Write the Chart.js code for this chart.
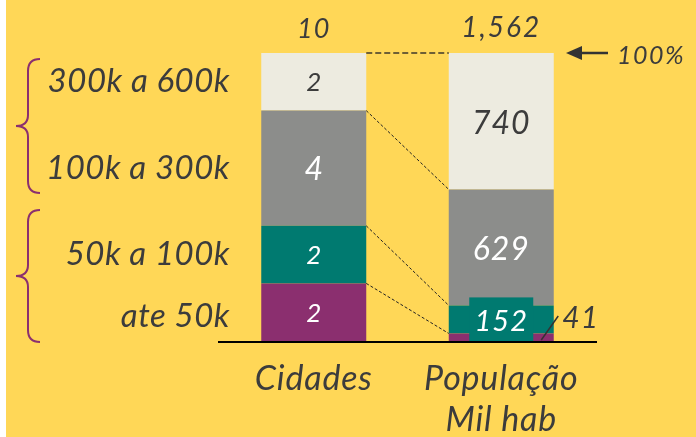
<!DOCTYPE html>
<html>
<head>
<meta charset="utf-8">
<script src="https://cdn.jsdelivr.net/npm/chart.js@4.4.1/dist/chart.umd.min.js"></script>
<style>
  html, body { margin: 0; padding: 0; background: #fff; }
  canvas { display: block; }
</style>
</head>
<body>
<canvas id="Chart" width="696" height="437"></canvas>
<script>
// dados
const categorias = ['Cidades', ['População', 'Mil hab']];
const faixas = ['ate 50k', '50k a 100k', '100k a 300k', '300k a 600k'];
const cidades = [2, 2, 4, 2];
const populacao = [41, 152, 629, 740];
const totais = ['10', '1,562'];

const cores = ['#8B2F6F', '#007A70', '#8C8D8B', '#EDEBE0'];
const corTexto = '#3c3c3c';
const fonte = 'Lato, "Open Sans", sans-serif';

const somaC = cidades.reduce((a, b) => a + b, 0);
const somaP = populacao.reduce((a, b) => a + b, 0);

const datasets = faixas.map((f, i) => ({
  label: f,
  data: [cidades[i] / somaC * 100, populacao[i] / somaP * 100],
  backgroundColor: cores[i],
  borderWidth: 0,
  barPercentage: 0.56,
  categoryPercentage: 1
}));

function brace(ctx, top, bottom, xTip, xLine, xEnd) {
  const mid = (top + bottom) / 2;
  ctx.beginPath();
  ctx.moveTo(xEnd, top);
  ctx.quadraticCurveTo(xLine, top, xLine, top + 12);
  ctx.lineTo(xLine, mid - 11);
  ctx.quadraticCurveTo(xLine, mid, xTip, mid);
  ctx.quadraticCurveTo(xLine, mid, xLine, mid + 11);
  ctx.lineTo(xLine, bottom - 12);
  ctx.quadraticCurveTo(xLine, bottom, xEnd, bottom);
  ctx.stroke();
}

function texto(ctx, t, x, y, tam, esp) {
  ctx.font = 'italic ' + tam + 'px ' + fonte;
  ctx.letterSpacing = (esp || 0) + 'px';
  ctx.fillText(t, x, y);
}

const desenho = {
  id: 'desenho',
  beforeDraw(chart) {
    const ctx = chart.ctx;
    ctx.save();
    ctx.fillStyle = '#fff';
    ctx.fillRect(0, 0, chart.width, chart.height);
    ctx.fillStyle = '#FFD757';
    ctx.fillRect(6, 0, chart.width - 6, chart.height);
    ctx.restore();
  },
  afterDatasetsDraw(chart) {
    const ctx = chart.ctx;
    const area = chart.chartArea;
    const metas = datasets.map((d, i) => chart.getDatasetMeta(i));
    const c = i => metas[i].data[0];
    const p = i => metas[i].data[1];
    ctx.save();

    // linhas tracejadas
    ctx.strokeStyle = '#222';
    ctx.lineWidth = 1;
    ctx.setLineDash([3, 2]);
    for (let i = 0; i < 3; i++) {
      ctx.beginPath();
      ctx.moveTo(c(i).x + c(i).width / 2, c(i).y);
      ctx.lineTo(p(i).x - p(i).width / 2, p(i).y);
      ctx.stroke();
    }
    ctx.strokeStyle = '#6e5f35';
    ctx.lineWidth = 2;
    ctx.setLineDash([6, 3]);
    ctx.beginPath();
    ctx.moveTo(c(3).x + c(3).width / 2, c(3).y);
    ctx.lineTo(p(3).x - p(3).width / 2, p(3).y);
    ctx.stroke();
    ctx.setLineDash([]);

    // caixa do 152
    const b = p(1);
    ctx.fillStyle = cores[1];
    ctx.fillRect(b.x - 32, b.y - 8, 64, area.bottom - (b.y - 8));

    // eixo
    ctx.strokeStyle = '#000';
    ctx.lineWidth = 2;
    ctx.beginPath();
    ctx.moveTo(area.left - 2, area.bottom + 1);
    ctx.lineTo(area.right + 2, area.bottom + 1);
    ctx.stroke();

    // valores nas barras
    ctx.textAlign = 'center';
    ctx.textBaseline = 'middle';
    const corVal = ['#fff', '#fff', '#fff', corTexto];
    const tamC = [26, 26, 32, 26];
    for (let i = 0; i < 4; i++) {
      const e = c(i);
      ctx.fillStyle = corVal[i];
      texto(ctx, String(cidades[i]), e.x, (e.y + e.base) / 2 + 1, tamC[i]);
    }
    ctx.fillStyle = corTexto;
    texto(ctx, String(populacao[3]), p(3).x, (p(3).y + p(3).base) / 2 + 2, 32, 1);
    ctx.fillStyle = '#fff';
    texto(ctx, String(populacao[2]), p(2).x, (p(2).y + p(2).base) / 2 + 2, 32, 1);
    texto(ctx, String(populacao[1]), b.x, (b.y - 8 + area.bottom) / 2 + 2, 29, 1);

    // 41 fora da barra
    ctx.strokeStyle = '#333';
    ctx.lineWidth = 1.5;
    ctx.beginPath();
    ctx.moveTo(p(0).x + 40, area.bottom - 1);
    ctx.lineTo(p(0).x + 57, area.bottom - 25);
    ctx.stroke();
    ctx.fillStyle = corTexto;
    ctx.textAlign = 'left';
    texto(ctx, String(populacao[0]), p(0).x + 61, area.bottom - 23, 30, 1);

    // totais
    ctx.textAlign = 'center';
    texto(ctx, totais[0], c(3).x, 29, 27, 1);
    texto(ctx, totais[1], p(3).x, 28, 28, 2);

    // seta 100%
    const yTop = area.top;
    ctx.strokeStyle = '#333';
    ctx.fillStyle = '#333';
    ctx.lineWidth = 2.5;
    ctx.beginPath();
    ctx.moveTo(608, yTop);
    ctx.lineTo(575, yTop);
    ctx.stroke();
    ctx.beginPath();
    ctx.moveTo(566, yTop);
    ctx.lineTo(582, yTop - 7);
    ctx.lineTo(582, yTop + 7);
    ctx.closePath();
    ctx.fill();
    ctx.fillStyle = corTexto;
    ctx.textAlign = 'left';
    texto(ctx, '100%', 617, yTop + 3, 25, 1.5);

    // rotulos das faixas
    ctx.textAlign = 'right';
    const ajuste = [4, 0, 0, 0];
    for (let i = 0; i < 4; i++) {
      const e = c(i);
      texto(ctx, faixas[i], 230, (e.y + e.base) / 2 + ajuste[i], 33, 0.5);
    }

    // categorias
    ctx.textAlign = 'center';
    categorias.forEach((cat, j) => {
      const linhas = Array.isArray(cat) ? cat : [cat];
      const x = metas[0].data[j].x;
      linhas.forEach((t, k) => texto(ctx, t, x + (k ? 0 : 0), 379 + k * 41, 34, 0.8));
    });

    // chaves
    ctx.strokeStyle = '#8B2F6F';
    ctx.lineWidth = 2;
    brace(ctx, 59, 193, 16, 28, 40);
    brace(ctx, 210, 342, 16, 28, 40);

    ctx.restore();
  }
};

const ctx = document.getElementById('Chart').getContext('2d');
const myChart = new Chart(ctx, {
  type: 'bar',
  data: {
    labels: categorias,
    datasets: datasets
  },
  options: {
    responsive: false,
    animation: false,
    devicePixelRatio: 1,
    layout: { padding: { left: 220, right: 101, top: 53, bottom: 96 } },
    plugins: { legend: { display: false }, tooltip: { enabled: false } },
    scales: {
      x: { display: false, stacked: true, offset: true },
      y: { display: false, stacked: true, min: 0, max: 100 }
    }
  },
  plugins: [desenho]
});
</script>
</body>
</html>
